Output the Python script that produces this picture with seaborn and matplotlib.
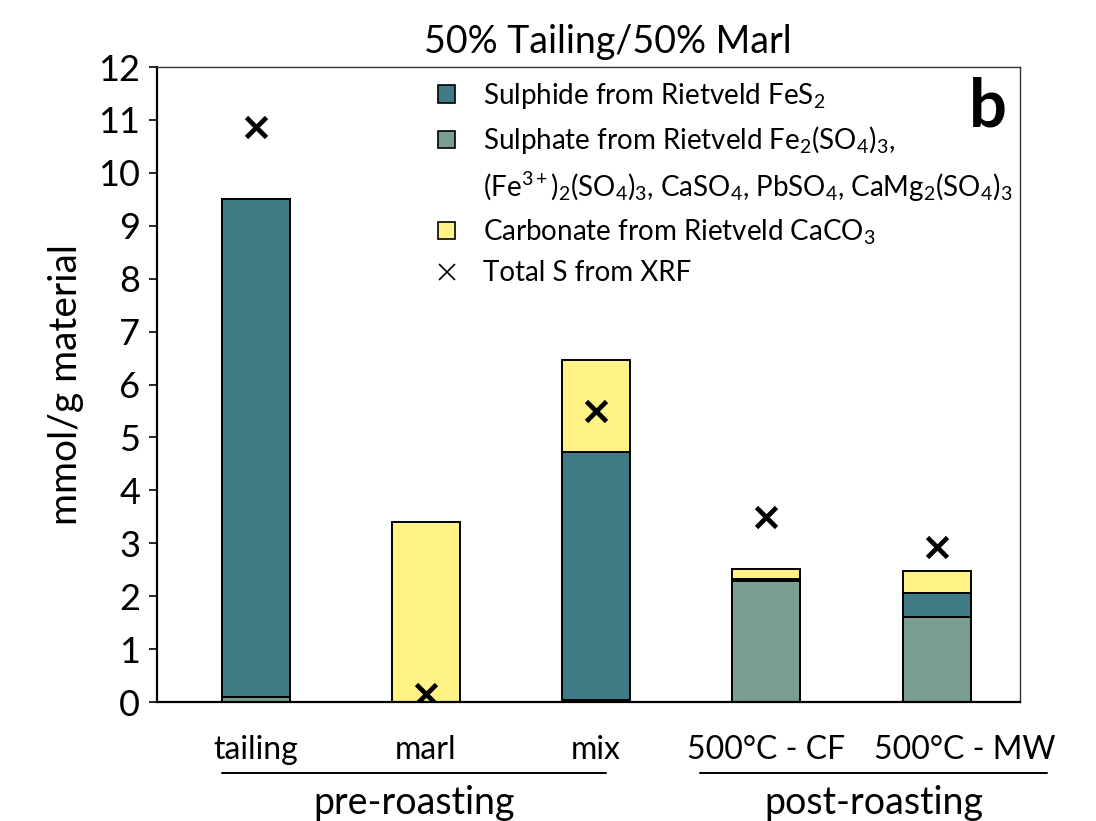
import numpy as np
import pandas as pd
import matplotlib
matplotlib.use("Agg")
import matplotlib.pyplot as plt
import matplotlib.transforms as mtransforms
from matplotlib.patches import Patch
from matplotlib.lines import Line2D
import seaborn as sns

# Sulphur speciation per sample (mmol/g material)
samples = ["tailing", "marl", "mix", "500°C - CF", "500°C - MW"]
sulphate = [0.09, 0.0, 0.03, 2.29, 1.61]
sulphide = [9.41, 0.0, 4.70, 0.03, 0.45]
carbonate = [0.01, 3.40, 1.73, 0.19, 0.41]
xrf_total_s = [10.87, 0.15, 5.50, 3.50, 2.93]

groups = ["pre-roasting", "post-roasting"]

c_sulphide = "#407A84"
c_sulphate = "#7A9E91"
c_carbonate = "#FFF385"

sns.set_theme(style="white")
plt.rcParams["font.family"] = ["Lato", "DejaVu Sans"]
plt.rcParams["mathtext.fontset"] = "custom"
plt.rcParams["mathtext.rm"] = "Lato"
plt.rcParams["mathtext.it"] = "Lato:italic"
plt.rcParams["mathtext.bf"] = "Lato:bold"
plt.rcParams["text.color"] = "black"
plt.rcParams["axes.labelcolor"] = "black"

df = pd.DataFrame({
    "sample": samples,
    "sulphate": sulphate,
    "sulphide": sulphide,
    "carbonate": carbonate,
    "xrf": xrf_total_s,
})
df["lvl1"] = df["sulphate"]
df["lvl2"] = df["lvl1"] + df["sulphide"]
df["lvl3"] = df["lvl2"] + df["carbonate"]

fig = plt.figure(figsize=(10.96, 8.21), dpi=100)
ax = fig.add_axes([157 / 1096, 1 - 702 / 821, (1020 - 157) / 1096, (702 - 67) / 821])

bar_kw = dict(width=0.40, edgecolor="black", linewidth=1.4, errorbar=None,
              saturation=1, ax=ax, order=samples)
# Stack by drawing cumulative totals from the top layer down
sns.barplot(data=df, x="sample", y="lvl3", color=c_carbonate, **bar_kw)
sns.barplot(data=df, x="sample", y="lvl2", color=c_sulphide, **bar_kw)
sns.barplot(data=df, x="sample", y="lvl1", color=c_sulphate, **bar_kw)

sns.pointplot(data=df, x="sample", y="xrf", order=samples, color="black",
              linestyle="none", marker="x", markersize=15, markeredgewidth=3.4,
              errorbar=None, ax=ax, zorder=5)

ax.set_xlim(-0.58, 4.49)
ax.set_ylim(0, 12)
ax.set_yticks(range(0, 13))
ax.tick_params(axis="y", labelsize=26, length=6, width=1.2, direction="out",
               left=True, color="black", pad=6)
ax.tick_params(axis="x", labelsize=23, length=0, pad=24)
ax.set_xlabel("")
ax.set_ylabel("mmol/g material", fontsize=28, labelpad=10, color="black")

for lab in ax.get_xticklabels():
    lab.set_color("black")
    if lab.get_text() == "500°C - MW":
        lab.set_transform(lab.get_transform() +
                          mtransforms.ScaledTranslation(0.28, 0, fig.dpi_scale_trans))
for lab in ax.get_yticklabels():
    lab.set_color("black")

for side in ["left", "bottom"]:
    ax.spines[side].set_color("black")
    ax.spines[side].set_linewidth(1.6)
for side in ["top", "right"]:
    ax.spines[side].set_color("#333333")
    ax.spines[side].set_linewidth(1.0)

ax.set_title("50% Tailing/50% Marl", fontsize=27, pad=10, color="black", x=0.522)

ax.text(0.985, 0.985, "b", transform=ax.transAxes, fontsize=48,
        fontweight="bold", ha="right", va="top", color="black")

# Group brackets below the category labels
trans = mtransforms.blended_transform_factory(ax.transData, fig.transFigure)
y_line = 1 - 773 / 821
y_text = 1 - 803 / 821
for (x0, x1), name in zip([(-0.20, 2.06), (2.61, 4.65)], groups):
    ax.plot([x0, x1], [y_line, y_line], color="black", lw=1.4,
            transform=trans, clip_on=False)
    ax.text((x0 + x1) / 2, y_text, name, transform=trans, ha="center",
            va="center", fontsize=27, color="black")

handles = [
    Patch(facecolor=c_sulphide, edgecolor="black", linewidth=1.2),
    Patch(facecolor=c_sulphate, edgecolor="black", linewidth=1.2),
    Patch(facecolor="none", edgecolor="none"),
    Patch(facecolor=c_carbonate, edgecolor="black", linewidth=1.2),
    Line2D([], [], color="black", marker="x", linestyle="none",
           markersize=11, markeredgewidth=1.2),
]
labels = [
    r"Sulphide from Rietveld FeS$_2$",
    r"Sulphate from Rietveld Fe$_2$(SO$_4$)$_3$,",
    r"(Fe$^{3+}$)$_2$(SO$_4$)$_3$, CaSO$_4$, PbSO$_4$, CaMg$_2$(SO$_4$)$_3$",
    r"Carbonate from Rietveld CaCO$_3$",
    "Total S from XRF",
]
leg = ax.legend(handles, labels, loc="upper left", bbox_to_anchor=(0.326, 0.978),
                frameon=False, fontsize=20, handlelength=0.6, handleheight=0.6,
                handletextpad=1.0, labelspacing=0.48, borderpad=0,
                borderaxespad=0, labelcolor="black")

fig.savefig("out.png", dpi=100)
